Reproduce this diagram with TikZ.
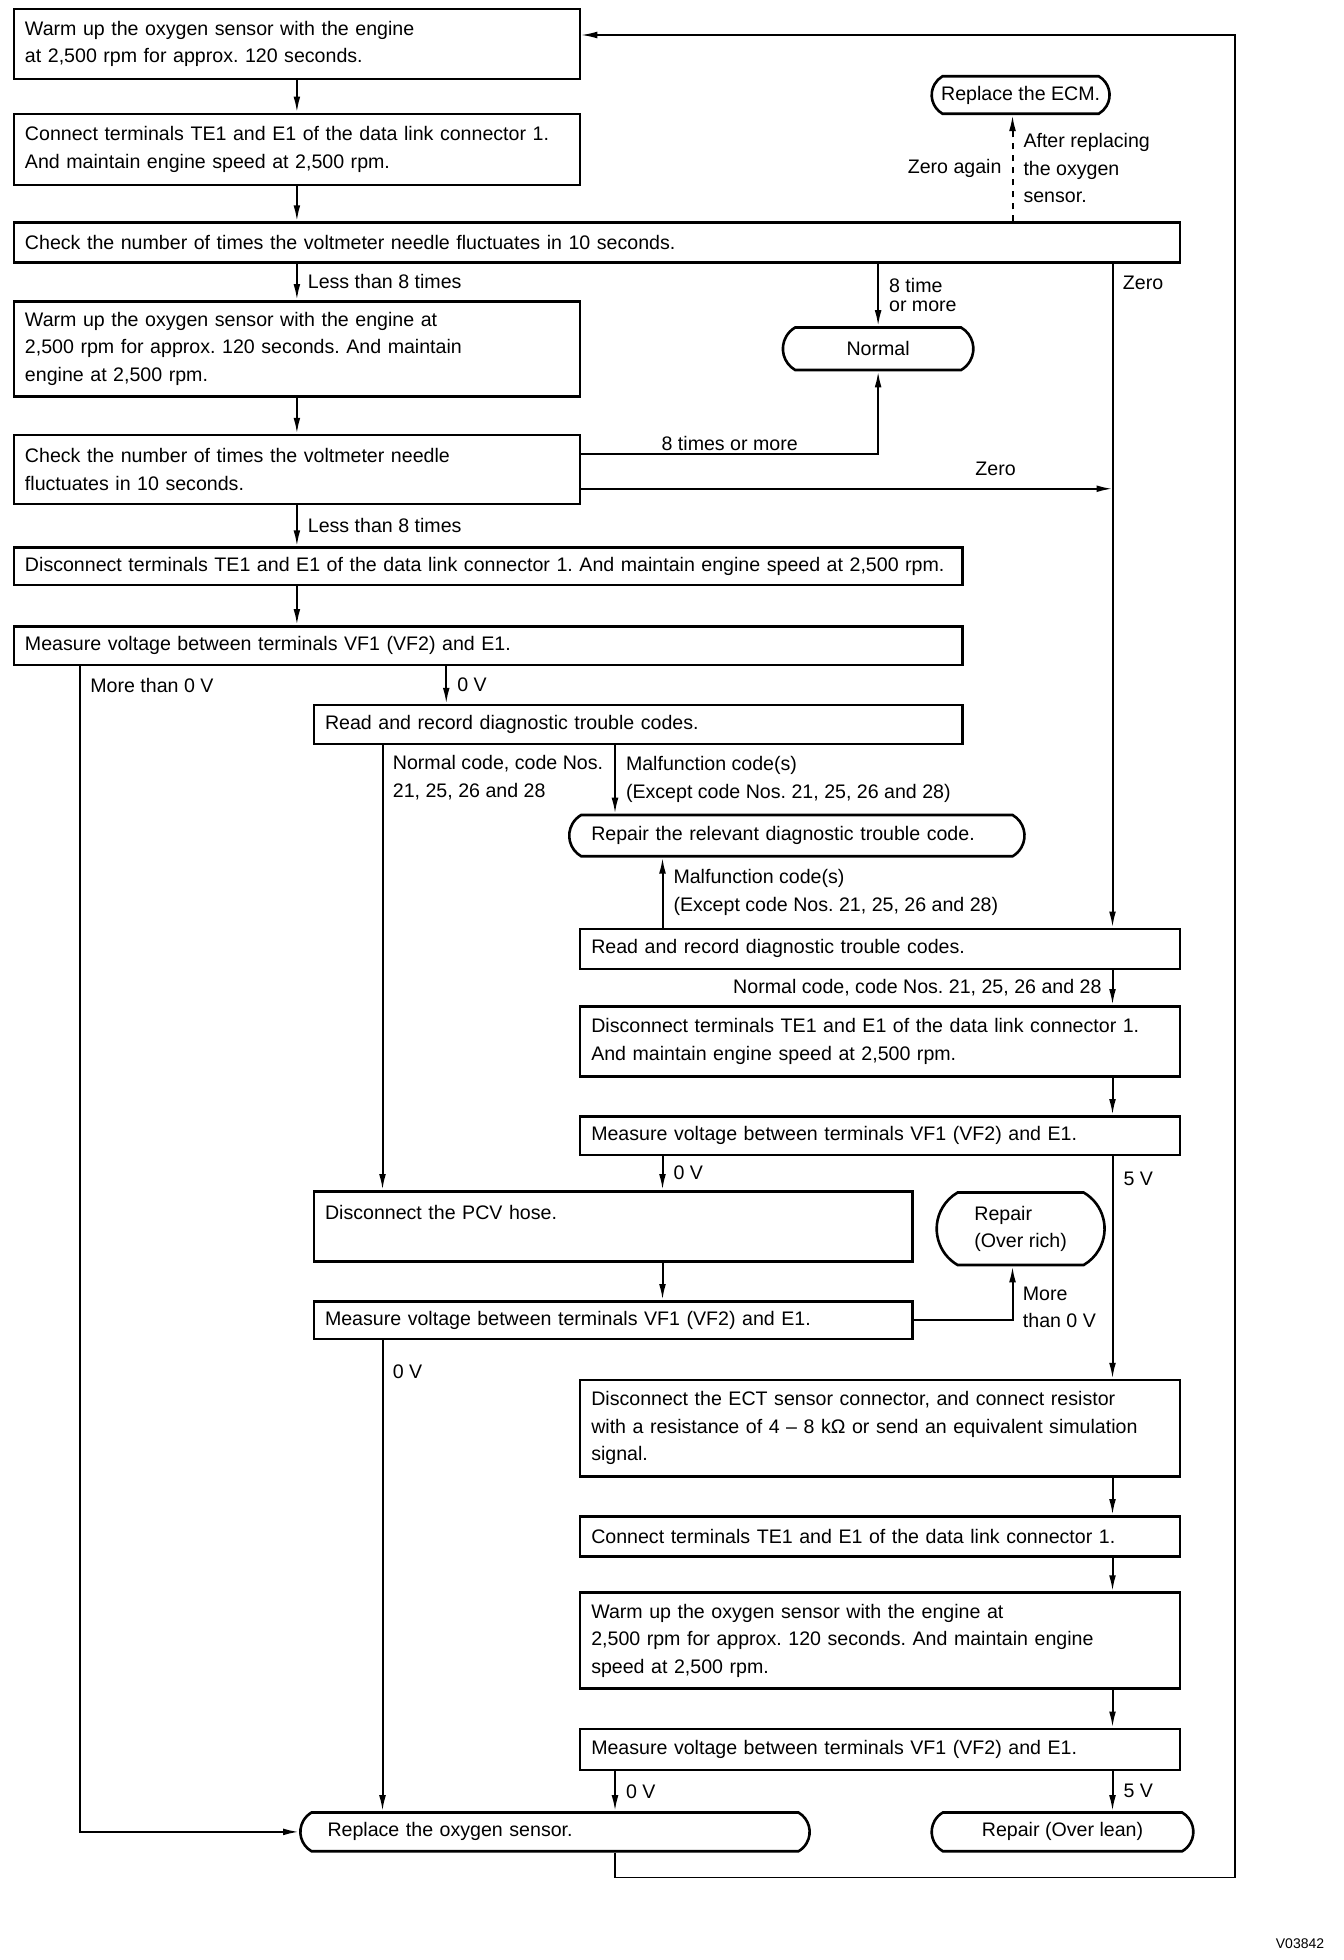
\documentclass[tikz,border=0pt]{standalone}
\usepackage{fontspec}
\setmainfont{Liberation Sans}
\usetikzlibrary{arrows.meta,shapes.misc}
\frenchspacing

\begin{document}
\begin{tikzpicture}[x=0.625pt,y=-0.625pt,font=\fontsize{9.8}{13.75}\selectfont,
	blk/.style={draw,line width=1.3pt,anchor=north west,inner xsep=5.6pt,align=left,text width=#1},
	term/.style={draw,line width=1.3pt,rounded rectangle,rounded rectangle arc length=120},
	con/.style={line width=1pt},
	arr/.style={con,-{Latex[length=8pt,width=3.4pt]}},
	lbl/.style={inner xsep=5pt,inner ysep=1pt}]
			\useasboundingbox (0,0) rectangle (1075,1568);
			\node[blk=271.9pt,minimum height=35pt] (b1) at (10,6) {Warm up the oxygen sensor with the engine\\at 2,500 rpm for approx. 120 seconds.};
			\node[blk=271.9pt,minimum height=35.6pt] (b2) at (10,90) {Connect terminals TE1 and E1 of the data link connector 1.\\And maintain engine speed at 2,500 rpm.};
			\node[blk=571.9pt,minimum height=20pt] (b3) at (10,177) {Check the number of times the voltmeter needle fluctuates in 10 seconds.};
			\node[blk=271.9pt,minimum height=47.5pt] (b4) at (10,240) {Warm up the oxygen sensor with the engine at\\2,500 rpm for approx. 120 seconds. And maintain\\engine at 2,500 rpm.};
			\node[blk=271.9pt,minimum height=34.4pt] (b5) at (10,347) {Check the number of times the voltmeter needle\\fluctuates in 10 seconds.};
			\node[blk=463.2pt,minimum height=18.75pt] (b6) at (10,437) {\mbox{Disconnect terminals TE1 and E1 of the data link connector 1. And maintain engine speed at 2,500 rpm.}};
			\node[blk=463.2pt,minimum height=19.4pt] (b7) at (10,500) {Measure voltage between terminals VF1 (VF2) and E1.};
			\node[blk=313.2pt,minimum height=19.4pt] (b8) at (250,563) {Read and record diagnostic trouble codes.};
			\node[blk=288.8pt,minimum height=20pt] (b9) at (463,742) {Read and record diagnostic trouble codes.};
			\node[blk=288.8pt,minimum height=35pt] (b10) at (463,804) {Disconnect terminals TE1 and E1 of the data link connector 1.\\And maintain engine speed at 2,500 rpm.};
			\node[blk=288.8pt,minimum height=19.4pt] (b11) at (463,892) {Measure voltage between terminals VF1 (VF2) and E1.};
			\node[blk=288.2pt,minimum height=35pt] (b12) at (250,952) {Disconnect the PCV hose.\\\mbox{}};
			\node[blk=288.2pt,minimum height=18.75pt] (b13) at (250,1040) {Measure voltage between terminals VF1 (VF2) and E1.};
			\node[blk=288.8pt,minimum height=48.1pt] (b14) at (463,1103) {Disconnect the ECT sensor connector, and connect resistor\\\mbox{with a resistance of 4 – 8 kΩ or send an equivalent simulation}\\signal.};
			\node[blk=288.8pt,minimum height=20pt] (b15) at (463,1212) {Connect terminals TE1 and E1 of the data link connector 1.};
			\node[blk=288.8pt,minimum height=48.1pt] (b16) at (463,1273) {Warm up the oxygen sensor with the engine at\\2,500 rpm for approx. 120 seconds. And maintain engine\\speed at 2,500 rpm.};
			\node[blk=288.8pt,minimum height=20.6pt] (b17) at (463,1382) {Measure voltage between terminals VF1 (VF2) and E1.};
			\node[term,minimum width=95.6pt,minimum height=18.75pt] (ecm) at (816.5,76) {Replace the ECM.};
			\node[term,minimum width=101.9pt,minimum height=21.25pt] (normal) at (702.5,279) {Normal};
			\node[term,minimum width=234.3pt,minimum height=20.6pt,text width=205.6pt,align=left] (rel) at (637.5,668.5) {Repair the relevant diagnostic trouble code.};
			\node[term,minimum width=90.6pt,minimum height=36.25pt,align=left] (rich) at (816.5,983) {Repair\\(Over rich)};
			\node[term,minimum width=261.3pt,minimum height=19.4pt,text width=227.5pt,align=left] (oxy) at (444,1465.5) {Replace the oxygen sensor.};
			\node[term,minimum width=137.5pt,minimum height=19.4pt] (lean) at (850,1465.5) {Repair (Over lean)};
			\coordinate (xl) at (64,0);
			\coordinate (xm) at (357,0);
			\coordinate (xn) at (306,0);
			\coordinate (xo) at (492,0);
			\coordinate (xq) at (530,0);
			\coordinate (xe) at (810,0);
			\coordinate (xz) at (890,0);
			\coordinate (xr) at (988,0);
			\coordinate (yt) at (0,28);
			\coordinate (yb) at (0,1502);
			\coordinate (yn) at (0,363);
			\coordinate (yz) at (0,391);
			\draw[arr] (b1.south) -- (b2.north);
			\draw[arr] (b2.south) -- (b2.south |- b3.north);
			\draw[arr] (b2.south |- b3.south) -- node[lbl,right]{Less than 8 times} (b4.north);
			\draw[arr] (b4.south) -- (b5.north);
			\draw[arr] (b5.south) -- node[lbl,right]{Less than 8 times} (b5.south |- b6.north);
			\draw[arr] (b5.south |- b6.south) -- (b5.south |- b7.north);
			\draw[arr] (b3.south -| normal) -- node[lbl,right,align=left,font=\fontsize{9.8}{9.4}\selectfont]{8 time\\or more} (normal.north);
			\draw[arr] (b5.east |- yn) -- node[lbl,above]{8 times or more} (normal.south |- yn) -- (normal.south);
			\draw[arr] (b5.east |- yz) -- node[lbl,above=5pt,pos=.78]{Zero} (xz |- yz);
			\draw[arr,dashed] (b3.north -| xe) -- node[lbl,left]{Zero again} node[lbl,right,align=left]{After replacing\\the oxygen\\sensor.} (ecm.south -| xe);
			\draw[arr] (b3.south -| xz) -- (b9.north -| xz);
			\node[lbl,anchor=west] (lzero) at (890,226) {Zero};
			\draw[arr] (b7.south -| xl) |- (oxy.west);
			\node[lbl,anchor=west] (lmore) at (64,548) {More than 0 V};
			\draw[arr] (b7.south -| xm) -- node[lbl,right]{0 V} (b8.north -| xm);
			\draw[arr] (b8.south -| xn) -- (b12.north -| xn);
			\node[lbl,anchor=west,align=left] (lnorm) at (306,622) {Normal code, code Nos.\\21, 25, 26 and 28};
			\draw[arr] (b8.south -| xo) -- node[lbl,right,align=left]{Malfunction code(s)\\(Except code Nos. 21, 25, 26 and 28)} (rel.north -| xo);
			\draw[arr] (b9.north -| xq) -- node[lbl,right,align=left]{Malfunction code(s)\\(Except code Nos. 21, 25, 26 and 28)} (rel.south -| xq);
			\draw[arr] (b9.south -| xz) -- node[lbl,left]{Normal code, code Nos. 21, 25, 26 and 28} (b10.north -| xz);
			\draw[arr] (b10.south -| xz) -- (b11.north -| xz);
			\draw[arr] (b11.south -| xq) -- node[lbl,right]{0 V} (b12.north -| xq);
			\draw[arr] (b11.south -| xz) -- node[lbl,right,pos=.1]{5 V} (b14.north -| xz);
			\draw[arr] (b12.south -| xq) -- (b13.north -| xq);
			\draw[arr] (b13.east) -| (rich.south -| xe);
			\node[lbl,anchor=west,align=left] (lmore2) at (810,1046) {More\\than 0 V};
			\draw[arr] (b13.south -| xn) -- (oxy.north -| xn);
			\node[lbl,anchor=west] (lzv) at (306,1097) {0 V};
			\draw[arr] (b14.south -| xz) -- (b15.north -| xz);
			\draw[arr] (b15.south -| xz) -- (b16.north -| xz);
			\draw[arr] (b16.south -| xz) -- (b17.north -| xz);
			\draw[arr] (b17.south -| xo) -- node[lbl,right]{0 V} (oxy.north -| xo);
			\draw[arr] (b17.south -| xz) -- node[lbl,right]{5 V} (lean.north -| xz);
			\draw[arr,line width=.7pt] (oxy.south -| xo) |- (xr |- yb) |- (b1.east |- yt);
			\node[font=\fontsize{7}{8}\selectfont] (code) at (1040,1555) {V03842};
\end{tikzpicture}
\end{document}
